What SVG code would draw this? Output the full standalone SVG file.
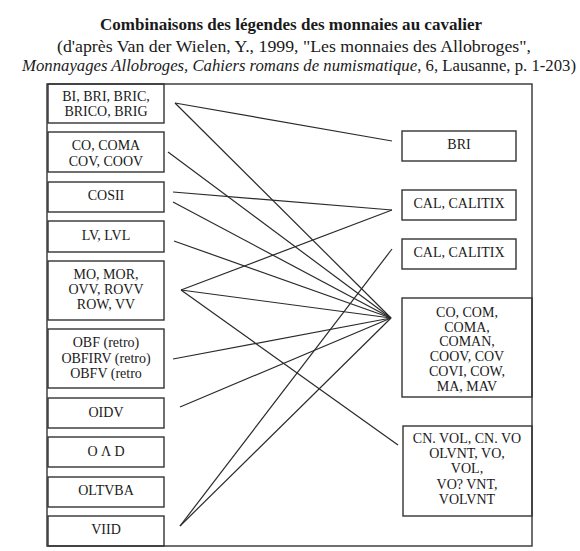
<svg xmlns="http://www.w3.org/2000/svg" width="580" height="551" viewBox="0 0 580 551">
<style>
.t{font-family:"Liberation Serif","Times New Roman",serif;fill:#1a1a1a;text-anchor:middle}
.h{font-size:17px}
.b{font-size:14px}
.box{fill:none;stroke:#333;stroke-width:1.4}
.c{stroke:#2a2a2a;stroke-width:1.2;fill:none}
</style>
<rect width="580" height="551" fill="#fff"/>
<g id="title">
<text class="t h" x="291" y="30" font-weight="bold" textLength="382" lengthAdjust="spacingAndGlyphs">Combinaisons des légendes des monnaies au cavalier</text>
<text class="t h" x="294" y="52" textLength="474" lengthAdjust="spacingAndGlyphs">(d'après Van der Wielen, Y., 1999, "Les monnaies des Allobroges",</text>
<text class="t h" x="299" y="71" textLength="554" lengthAdjust="spacingAndGlyphs"><tspan font-style="italic">Monnayages Allobroges, Cahiers romans de numismatique</tspan>, 6, Lausanne, p. 1-203)</text>
</g>
<g id="frame"><rect class="box" x="47" y="84" width="485" height="462"/></g>
<g id="connectors">
<line class="c" x1="175" y1="103" x2="392" y2="141"/>
<line class="c" x1="175" y1="103" x2="391" y2="318"/>
<line class="c" x1="168" y1="152" x2="391" y2="318"/>
<line class="c" x1="173" y1="192" x2="392" y2="210"/>
<line class="c" x1="173" y1="202" x2="391" y2="318"/>
<line class="c" x1="174" y1="241" x2="391" y2="318"/>
<line class="c" x1="181" y1="290" x2="392" y2="210"/>
<line class="c" x1="181" y1="290" x2="391" y2="318"/>
<line class="c" x1="181" y1="290" x2="398" y2="445"/>
<line class="c" x1="173" y1="359" x2="391" y2="318"/>
<line class="c" x1="180" y1="407" x2="391" y2="318"/>
<line class="c" x1="180" y1="526" x2="392" y2="249"/>
<line class="c" x1="180" y1="526" x2="391" y2="318"/>
</g>
<g id="n_bi"><rect class="box" x="48" y="84" width="116" height="39"/><text class="t b" x="106" y="101">BI, BRI, BRIC,</text><text class="t b" x="106" y="116">BRICO, BRIG</text></g>
<g id="n_co"><rect class="box" x="48" y="132" width="116" height="40"/><text class="t b" x="106" y="150">CO, COMA</text><text class="t b" x="106" y="166">COV, COOV</text></g>
<g id="n_cosii"><rect class="box" x="48" y="182" width="116" height="30"/><text class="t b" x="106" y="200">COSII</text></g>
<g id="n_lv"><rect class="box" x="48" y="221" width="116" height="31"/><text class="t b" x="106" y="240">LV, LVL</text></g>
<g id="n_mo"><rect class="box" x="48" y="261" width="116" height="59"/><text class="t b" x="106" y="279">MO, MOR,</text><text class="t b" x="106" y="294">OVV, ROVV</text><text class="t b" x="106" y="309">ROW, VV</text></g>
<g id="n_obf"><rect class="box" x="48" y="329" width="116" height="59"/><text class="t b" x="106" y="347">OBF (retro)</text><text class="t b" x="106" y="363">OBFIRV (retro)</text><text class="t b" x="106" y="378">OBFV (retro</text></g>
<g id="n_oidv"><rect class="box" x="48" y="398" width="116" height="30"/><text class="t b" x="106" y="417">OIDV</text></g>
<g id="n_oad"><rect class="box" x="48" y="437" width="116" height="30"/><text class="t b" x="106" y="456">O Λ D</text></g>
<g id="n_oltvba"><rect class="box" x="48" y="477" width="116" height="30"/><text class="t b" x="106" y="495">OLTVBA</text></g>
<g id="n_viid"><rect class="box" x="48" y="516" width="116" height="30"/><text class="t b" x="106" y="534">VIID</text></g>
<g id="r_bri"><rect class="box" x="402" y="131" width="114" height="30"/><text class="t b" x="459" y="149">BRI</text></g>
<g id="r_cal1"><rect class="box" x="402" y="190" width="114" height="30"/><text class="t b" x="459" y="208">CAL, CALITIX</text></g>
<g id="r_cal2"><rect class="box" x="402" y="239" width="114" height="30"/><text class="t b" x="459" y="257">CAL, CALITIX</text></g>
<g id="r_co"><rect class="box" x="402" y="298" width="130" height="99"/><text class="t b" x="467" y="317">CO, COM,</text><text class="t b" x="467" y="332">COMA,</text><text class="t b" x="467" y="346">COMAN,</text><text class="t b" x="467" y="361">COOV, COV</text><text class="t b" x="467" y="376">COVI, COW,</text><text class="t b" x="467" y="391">MA, MAV</text></g>
<g id="r_cn"><rect class="box" x="403" y="426" width="129" height="90"/><text class="t b" x="467" y="443">CN. VOL, CN. VO</text><text class="t b" x="467" y="458">OLVNT, VO,</text><text class="t b" x="467" y="473">VOL,</text><text class="t b" x="467" y="489">VO? VNT,</text><text class="t b" x="467" y="504">VOLVNT</text></g>
</svg>
